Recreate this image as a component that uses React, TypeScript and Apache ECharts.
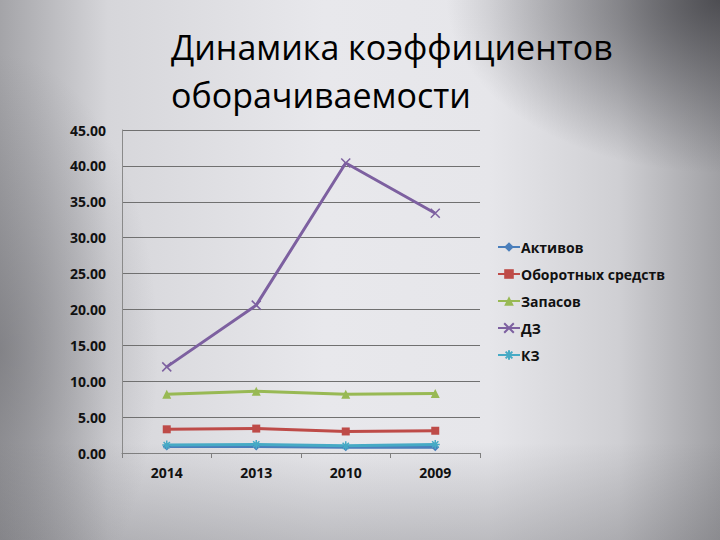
import React, { useEffect, useRef } from 'react';
import * as echarts from 'echarts';

const years = ['2014', '2013', '2010', '2009'];

const aktivov = [0.9, 0.9, 0.8, 0.8];
const oborotnyh = [3.3, 3.4, 3.0, 3.1];
const zapasov = [8.2, 8.6, 8.2, 8.3];
const dz = [12.0, 20.6, 40.4, 33.4];
const kz = [1.1, 1.2, 1.0, 1.2];

const seriesNames = ['Активов', 'Оборотных средств', 'Запасов', 'ДЗ', 'КЗ'];

const FONT = '"Open Sans", "Noto Sans", sans-serif';

const crossPath = 'path://M0,0L10,10M10,0L0,10';
const starPath = 'path://M5,0L5,10M0,5L10,5M1.5,1.5L8.5,8.5M8.5,1.5L1.5,8.5';

const App: React.FC = () => {
  const chartRef = useRef<HTMLDivElement>(null);

  useEffect(() => {
    if (!chartRef.current) return;
    const chart = echarts.init(chartRef.current, null, { renderer: 'svg' });

    const line = (
      name: string,
      data: number[],
      color: string,
      symbol: string,
      symbolSize: number,
      stroked = false,
    ) => ({
      name,
      type: 'line',
      data,
      symbol,
      symbolSize,
      lineStyle: { width: 3, color },
      itemStyle: stroked
        ? { color: 'transparent', borderColor: color, borderWidth: 1.5 }
        : { color },
      z: 3,
    });

    chart.setOption({
      animation: false,
      backgroundColor: 'transparent',
      title: {
        text: 'Динамика коэффициентов\nоборачиваемости',
        left: 166,
        top: 18,
        textStyle: {
          fontFamily: FONT,
          fontSize: 34,
          fontWeight: 'normal',
          color: '#000',
          lineHeight: 48,
        },
      },
      legend: {
        orient: 'vertical',
        left: 492,
        top: 235,
        itemWidth: 22,
        itemHeight: 12,
        itemGap: 13,
        data: seriesNames,
        textStyle: {
          fontFamily: FONT,
          fontSize: 14,
          fontWeight: 'bold',
          color: '#111',
          padding: [0, 0, 0, -4],
        },
      },
      grid: { left: 122, right: 240, top: 130, bottom: 87 },
      xAxis: {
        type: 'category',
        data: years,
        boundaryGap: true,
        axisLine: { lineStyle: { color: '#7f7f7f', width: 1 } },
        axisTick: { show: true, length: 5, lineStyle: { color: '#7f7f7f' } },
        axisLabel: {
          fontFamily: FONT,
          fontSize: 14,
          fontWeight: 'bold',
          color: '#111',
          margin: 12,
        },
      },
      yAxis: {
        type: 'value',
        min: 0,
        max: 45,
        interval: 5,
        axisLine: { show: true, lineStyle: { color: '#8a8a8a' } },
        axisTick: { show: false },
        splitLine: { lineStyle: { color: '#707070', width: 1 } },
        axisLabel: {
          fontFamily: FONT,
          fontSize: 14,
          fontWeight: 'bold',
          color: '#111',
          margin: 16,
          formatter: (v: number) => v.toFixed(2),
        },
      },
      series: [
        line('Активов', aktivov, '#4a7ebb', 'diamond', 8),
        line('Оборотных средств', oborotnyh, '#be4b48', 'rect', 8),
        line('Запасов', zapasov, '#98b954', 'triangle', 9),
        line('ДЗ', dz, '#7d60a0', crossPath, 9, true),
        line('КЗ', kz, '#46aac5', starPath, 9, true),
      ],
    });

    return () => {
      chart.dispose();
    };
  }, []);

  return (
    <div
      style={{
        position: 'fixed',
        left: 0,
        top: 0,
        width: 720,
        height: 540,
        background:
          'radial-gradient(ellipse 38% 32% at 100% 0%, rgba(50,50,55,0.75), rgba(50,50,55,0) 100%),' +
          'radial-gradient(ellipse 22% 55% at 0% 65%, rgba(90,90,95,0.45), rgba(90,90,95,0) 100%),' +
          'linear-gradient(180deg, rgba(0,0,0,0) 82%, rgba(90,90,95,0.3) 100%),' +
          'linear-gradient(90deg, #a4a4a8 0%, #d6d6da 15%, #e8e8ec 45%, #e6e6ea 68%, #cfcfd3 86%, #a0a0a4 100%)',
      }}
    >
      <div ref={chartRef} style={{ width: 720, height: 540 }} />
    </div>
  );
};

export default App;
